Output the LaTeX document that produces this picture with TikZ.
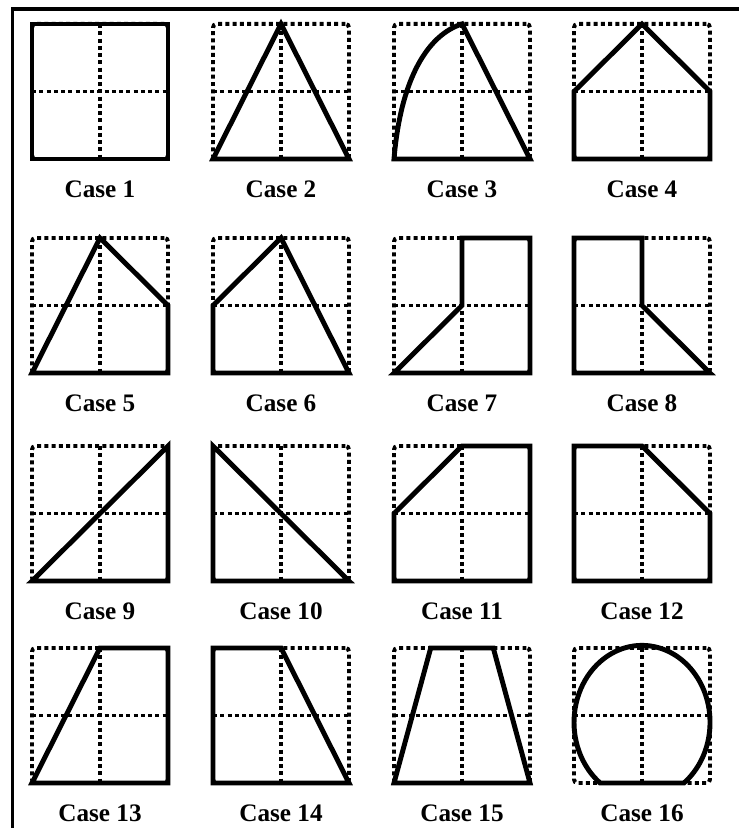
\documentclass[tikz,border=0pt]{standalone}
\usepackage{fontspec}
\setmainfont{Liberation Serif}
\usepackage{tikz}
\usetikzlibrary{positioning}

\begin{document}
\begin{tikzpicture}[
        x=0.03cm, y=0.03cm,
        node distance=0.66cm,
        cell/.style={rectangle, draw=black, line width=3.4pt, dash pattern=on 3.4pt off 2.8pt, rounded corners=3pt, minimum width=4.08cm, minimum height=4.05cm, inner sep=0pt, outer sep=0pt},
        midlines/.style={draw=black, line width=3.4pt, dash pattern=on 3.4pt off 2.8pt},
        profile/.style={draw=black, line width=4.2pt, line join=miter},
        caption/.style={font=\fontsize{21.5}{26}\selectfont\bfseries, inner sep=0pt},
        unit/.style={shift={(#1.south west)}, x=4.08cm, y=4.05cm}
    ]
    \useasboundingbox (0,0) rectangle (739,828);

    % Border
    \draw [line width=3pt] (12.5,0) -- (12.5,819) -- (739,819);

    % Cells
    \node (f1) [cell] at (100,736.5) {};
    \node (f2) [cell] at (281,736.5) {};
    \node (f3) [cell] at (462,736.5) {};
    \node (f4) [cell] at (642,736.5) {};
    \node (f5) [cell] at (100,522.5) {};
    \node (f6) [cell] at (281,522.5) {};
    \node (f7) [cell] at (462,522.5) {};
    \node (f8) [cell] at (642,522.5) {};
    \node (f9) [cell] at (100,314.5) {};
    \node (f10) [cell] at (281,314.5) {};
    \node (f11) [cell] at (462,314.5) {};
    \node (f12) [cell] at (642,314.5) {};
    \node (f13) [cell] at (100,112.5) {};
    \node (f14) [cell] at (281,112.5) {};
    \node (f15) [cell] at (462,112.5) {};
    \node (f16) [cell] at (642,112.5) {};

    \foreach \i in {1,...,16}
        \draw [midlines] (f\i.north) -- (f\i.south) (f\i.west) -- (f\i.east);

    % Captions
    \node (l1) [caption, below=of f1] {Case 1};
    \node (l2) [caption, below=of f2] {Case 2};
    \node (l3) [caption, below=of f3] {Case 3};
    \node (l4) [caption, below=of f4] {Case 4};
    \node (l5) [caption, below=of f5] {Case 5};
    \node (l6) [caption, below=of f6] {Case 6};
    \node (l7) [caption, below=of f7] {Case 7};
    \node (l8) [caption, below=of f8] {Case 8};
    \node (l9) [caption, below=of f9] {Case 9};
    \node (l10) [caption, below=of f10] {Case 10};
    \node (l11) [caption, below=of f11] {Case 11};
    \node (l12) [caption, below=of f12] {Case 12};
    \node (l13) [caption, below=of f13] {Case 13};
    \node (l14) [caption, below=of f14] {Case 14};
    \node (l15) [caption, below=of f15] {Case 15};
    \node (l16) [caption, below=of f16] {Case 16};

    % Sections
    \draw [profile, unit=f1] (0,0) rectangle (1,1);
    \draw [profile, unit=f2] (0,0) -- (0.5,1) -- (1,0) -- cycle;
    \draw [profile, unit=f3] (0,0) .. controls (0.05,0.6) and (0.25,0.92) .. (0.5,1) -- (1,0) -- cycle;
    \draw [profile, unit=f4] (0,0) -- (0,0.5) -- (0.5,1) -- (1,0.5) -- (1,0) -- cycle;
    \draw [profile, unit=f5] (0,0) -- (0.5,1) -- (1,0.5) -- (1,0) -- cycle;
    \draw [profile, unit=f6] (0,0) -- (0,0.5) -- (0.5,1) -- (1,0) -- cycle;
    \draw [profile, unit=f7] (0,0) -- (0.5,0.5) -- (0.5,1) -- (1,1) -- (1,0) -- cycle;
    \draw [profile, unit=f8] (0,0) -- (0,1) -- (0.5,1) -- (0.5,0.5) -- (1,0) -- cycle;
    \draw [profile, unit=f9] (0,0) -- (1,1) -- (1,0) -- cycle;
    \draw [profile, unit=f10] (0,0) -- (0,1) -- (1,0) -- cycle;
    \draw [profile, unit=f11] (0,0) -- (0,0.5) -- (0.5,1) -- (1,1) -- (1,0) -- cycle;
    \draw [profile, unit=f12] (0,0) -- (0,1) -- (0.5,1) -- (1,0.5) -- (1,0) -- cycle;
    \draw [profile, unit=f13] (0,0) -- (0.5,1) -- (1,1) -- (1,0) -- cycle;
    \draw [profile, unit=f14] (0,0) -- (0,1) -- (0.5,1) -- (1,0) -- cycle;
    \draw [profile, unit=f15] (0,0) -- (0.27,1) -- (0.73,1) -- (1,0) -- cycle;
    \draw [profile, unit=f16] (0.808,0) arc[start angle=-52, end angle=232, x radius=0.5, y radius=0.57] -- cycle;

\end{tikzpicture}
\end{document}
